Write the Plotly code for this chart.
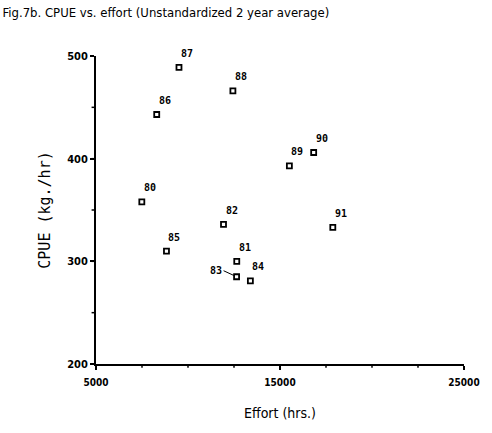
import plotly.graph_objects as go

# Two-year averaged effort and CPUE, labelled by year
years = ["80", "81", "82", "83", "84", "85", "86", "87", "88", "89", "90", "91"]
effort = [7490, 12650, 11930, 12640, 13390, 8830, 8300, 9510, 12440, 15510, 16830, 17870]
cpue = [358, 300, 336, 285, 281, 310, 443, 489, 466, 393, 406, 333]

x_ticks = [5000, 15000, 25000]
y_ticks = [200, 300, 400, 500]

fig = go.Figure()
fig.add_trace(go.Scatter(
    x=effort, y=cpue, mode="markers",
    marker=dict(symbol="square-open", size=5, color="black", line=dict(width=1.8, color="black")),
    hoverinfo="skip", showlegend=False,
))

label_font = dict(family="DejaVu Sans Mono, monospace", size=10, color="black", weight="bold")
for yr, xv, yv in zip(years, effort, cpue):
    if yr == "83":
        fig.add_annotation(x=xv, y=yv, text=yr, showarrow=True, arrowhead=0,
                           arrowwidth=1, arrowcolor="black", ax=-13, ay=-6,
                           standoff=3, xanchor="right", yanchor="middle", font=label_font)
    else:
        fig.add_annotation(x=xv, y=yv, text=yr, showarrow=False,
                           xshift=8, yshift=14, font=label_font)

# Minor tick marks along both axes
for v in range(5000, 25001, 2500):
    fig.add_shape(type="line", xref="x", yref="paper", x0=v, x1=v, y0=0, y1=-0.012,
                  line=dict(color="black", width=1.5))
for v in range(200, 501, 50):
    fig.add_shape(type="line", xref="paper", yref="y", x0=0, x1=-0.012, y0=v, y1=v,
                  line=dict(color="black", width=1.5))

fig.update_layout(
    width=492, height=433,
    margin=dict(l=96, r=18, t=56, b=69),
    paper_bgcolor="white", plot_bgcolor="white",
    title=dict(text="Fig.7b. CPUE vs. effort (Unstandardized 2 year average)",
               x=0.005, xanchor="left", y=0.972, yanchor="middle",
               font=dict(family="Liberation Sans Narrow, DejaVu Sans Condensed, sans-serif",
                         size=13, color="black")),
    xaxis=dict(range=[5000, 25000], tickvals=x_ticks, ticktext=[str(v) for v in x_ticks],
               showgrid=False, zeroline=False, showline=True, linecolor="black", linewidth=2,
               ticks="outside", ticklen=4, tickwidth=1.5, tickcolor="black", ticklabelstandoff=4,
               tickfont=dict(family="DejaVu Sans Condensed, sans-serif", size=10, color="black", weight="bold"),
               title=dict(text="Effort (hrs.)", standoff=21,
                          font=dict(family="Liberation Sans Narrow, DejaVu Sans Condensed, sans-serif",
                                    size=14, color="black"))),
    yaxis=dict(range=[200, 500], tickvals=y_ticks, ticktext=[str(v) for v in y_ticks],
               showgrid=False, zeroline=False, showline=True, linecolor="black", linewidth=2,
               ticks="outside", ticklen=4, tickwidth=1.5, tickcolor="black",
               tickfont=dict(family="DejaVu Sans Condensed, sans-serif", size=11, color="black", weight="bold"),
               title=dict(text="CPUE (kg./hr)", standoff=13,
                          font=dict(family="DejaVu Sans Mono, monospace", size=15, color="black"))),
)

fig.write_html("out.html")
